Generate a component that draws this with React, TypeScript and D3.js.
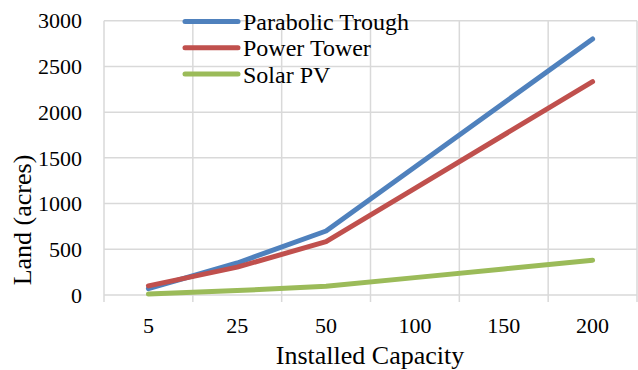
import React from "react";
import * as d3 from "d3";

const categories = ["5", "25", "50", "100", "150", "200"];
const troughValues = [70, 350, 700, 1400, 2100, 2800];
const towerValues = [100, 305, 583, 1167, 1750, 2333];
const pvValues = [10, 48, 95, 190, 285, 380];
const yTicks = [0, 500, 1000, 1500, 2000, 2500, 3000];
const seriesNames = ["Parabolic Trough", "Power Tower", "Solar PV"];

const W = 638, H = 370;
const left = 104, right = 637, top = 20.7, bottom = 295;

export default function App() {
  const x = d3.scaleBand<string>().domain(categories).range([left, right]).padding(0);
  const y = d3.scaleLinear().domain([0, 3000]).range([bottom, top]);
  const cx = (c: string) => (x(c) as number) + x.bandwidth() / 2;
  const line = d3.line<number>().x((_, i) => cx(categories[i])).y((d) => y(d));
  const series = [
    { name: seriesNames[0], values: troughValues, color: "#4f81bd" },
    { name: seriesNames[1], values: towerValues, color: "#c0504d" },
    { name: seriesNames[2], values: pvValues, color: "#9bbb59" },
  ];
  const edges = [...categories.map((c) => x(c) as number), right];
  return (
    <svg width={W} height={H} style={{ position: "absolute", left: 0, top: 0, background: "#fff", fontFamily: "'Liberation Serif'" }}>
      {yTicks.map((t) => (
        <line key={"h" + t} x1={left} x2={right} y1={y(t)} y2={y(t)} stroke="#d9d9d9" strokeWidth={1.5} />
      ))}
      {edges.map((e, i) => (
        <line key={"v" + i} x1={e} x2={e} y1={top} y2={bottom + 7} stroke="#d9d9d9" strokeWidth={1.5} />
      ))}
      {yTicks.map((t) => (
        <text key={"yt" + t} x={82} y={y(t)} dy="0.35em" textAnchor="end" fontSize={22} fill="#000">
          {t}
        </text>
      ))}
      {categories.map((c) => (
        <text key={"xt" + c} x={cx(c)} y={333} textAnchor="middle" fontSize={22} fill="#000">
          {c}
        </text>
      ))}
      {series.map((s) => (
        <path key={s.name} d={line(s.values) as string} fill="none" stroke={s.color} strokeWidth={5} strokeLinecap="round" strokeLinejoin="round" />
      ))}
      {series.map((s, i) => (
        <g key={"lg" + i}>
          <line x1={185} x2={238} y1={21.5 + i * 26.3} y2={21.5 + i * 26.3} stroke={s.color} strokeWidth={5} strokeLinecap="round" />
          <text x={243} y={30 + i * 26.3} fontSize={24} fill="#000">
            {s.name}
          </text>
        </g>
      ))}
      <text x={370} y={364} textAnchor="middle" fontSize={26} fill="#000">
        Installed Capacity
      </text>
      <text transform="translate(31,220) rotate(-90)" textAnchor="middle" fontSize={26} fill="#000">
        Land (acres)
      </text>
    </svg>
  );
}
